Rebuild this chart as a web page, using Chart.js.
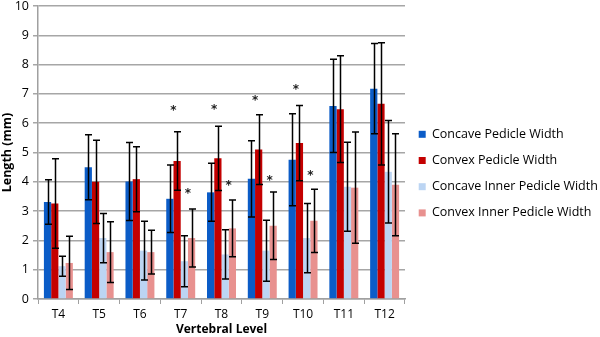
<!DOCTYPE html>
<html>
<head>
<meta charset="utf-8">
<script src="https://cdn.jsdelivr.net/npm/chart.js@4/dist/chart.umd.min.js"></script>
<style>
  html, body { margin: 0; padding: 0; background: #fff; }
  #contenedor { width: 600px; height: 337px; }
</style>
</head>
<body>
<div id="contenedor"><canvas id="grafico"></canvas></div>
<script>
var niveles = ['T4', 'T5', 'T6', 'T7', 'T8', 'T9', 'T10', 'T11', 'T12'];

var concavo = [3.31, 4.50, 4.01, 3.42, 3.64, 4.10, 4.75, 6.59, 7.18];
var concavoErr = [0.76, 1.11, 1.33, 1.15, 0.99, 1.30, 1.57, 1.59, 1.54];
var convexo = [3.26, 4.00, 4.09, 4.71, 4.80, 5.10, 5.32, 6.48, 6.66];
var convexoErr = [1.53, 1.42, 1.11, 1.00, 1.10, 1.19, 1.28, 1.82, 2.09];
var concavoInt = [1.12, 2.08, 1.65, 1.29, 1.52, 1.65, 2.08, 3.83, 4.34];
var concavoIntErr = [0.34, 0.84, 1.00, 0.87, 0.84, 1.04, 1.18, 1.52, 1.75];
var convexoInt = [1.23, 1.60, 1.60, 2.08, 2.41, 2.50, 2.67, 3.80, 3.90];
var convexoIntErr = [0.91, 1.04, 0.75, 0.99, 0.97, 1.15, 1.08, 1.90, 1.74];

// asteriscos (altura en mm), sobre el par exterior y el par interior
var asteriscoExt = [null, null, null, 6.49, 6.54, 6.83, 7.19, null, null];
var asteriscoInt = [null, null, null, 3.65, 3.92, 4.10, 4.27, null, null];

var marcasY = [0, 1, 2, 3, 4, 5, 6, 7, 8, 9, 10];

var fuente = "'Open Sans', sans-serif";

var barrasError = {
  id: 'barrasError',
  afterDatasetsDraw: function (chart) {
    var ctx = chart.ctx;
    var y = chart.scales.y;
    ctx.save();
    ctx.strokeStyle = '#000';
    ctx.lineWidth = 1.5;
    chart.data.datasets.forEach(function (ds, i) {
      var meta = chart.getDatasetMeta(i);
      meta.data.forEach(function (barra, j) {
        var v = ds.data[j], e = ds.errores[j];
        var arriba = y.getPixelForValue(v + e);
        var abajo = y.getPixelForValue(v - e);
        var x = Math.round(barra.x) + 0.5;
        ctx.beginPath();
        ctx.moveTo(x, arriba); ctx.lineTo(x, abajo);
        ctx.moveTo(x - 3.5, arriba); ctx.lineTo(x + 3.5, arriba);
        ctx.moveTo(x - 3.5, abajo); ctx.lineTo(x + 3.5, abajo);
        ctx.stroke();
      });
    });

    // asteriscos
    ctx.fillStyle = '#222';
    ctx.font = "bold 12px 'DejaVu Sans'";
    ctx.textAlign = 'center';
    ctx.textBaseline = 'middle';
    var m0 = chart.getDatasetMeta(0).data, m1 = chart.getDatasetMeta(1).data;
    var m2 = chart.getDatasetMeta(2).data, m3 = chart.getDatasetMeta(3).data;
    niveles.forEach(function (n, j) {
      if (asteriscoExt[j] != null) {
        ctx.fillText('*', (m0[j].x + m1[j].x) / 2, y.getPixelForValue(asteriscoExt[j]) + 2);
      }
      if (asteriscoInt[j] != null) {
        ctx.fillText('*', (m2[j].x + m3[j].x) / 2, y.getPixelForValue(asteriscoInt[j]) + 2);
      }
    });
    ctx.restore();
  }
};

var ctx = document.getElementById('grafico').getContext('2d');
var grafico = new Chart(ctx, {
  type: 'bar',
  data: {
    labels: niveles,
    datasets: [
      { label: 'Concave Pedicle Width', data: concavo, errores: concavoErr, backgroundColor: '#0b5cc7' },
      { label: 'Convex Pedicle Width', data: convexo, errores: convexoErr, backgroundColor: '#c40000' },
      { label: 'Concave Inner Pedicle Width', data: concavoInt, errores: concavoIntErr, backgroundColor: '#bcd5f3' },
      { label: 'Convex Inner Pedicle Width', data: convexoInt, errores: convexoIntErr, backgroundColor: '#e8918f' }
    ]
  },
  options: {
    responsive: true,
    maintainAspectRatio: false,
    animation: false,
    categoryPercentage: 0.71,
    barPercentage: 1.0,
    layout: { padding: { top: 0, right: 0, left: 0, bottom: 0 } },
    plugins: {
      legend: {
        position: 'right',
        maxWidth: 195,
        title: { display: true, text: '', font: { size: 1 }, padding: { top: 0, bottom: 9 } },
        labels: {
          boxWidth: 7,
          boxHeight: 7,
          padding: 13.7,
          color: '#000',
          font: { family: fuente, size: 12.5 }
        }
      },
      tooltip: { enabled: false }
    },
    scales: {
      x: {
        grid: { display: true, drawOnChartArea: false, drawTicks: true, tickLength: 5, color: '#a0a0a0', lineWidth: 1 },
        border: { color: '#a0a0a0', width: 1.5 },
        ticks: { color: '#000', font: { family: fuente, size: 12 }, padding: 3 },
        title: { display: true, text: 'Vertebral Level', color: '#000', font: { family: fuente, size: 12, weight: 'bold' }, padding: 0 },
        afterFit: function (s) { s.height = 38; }
      },
      y: {
        min: 0,
        max: 10,
        afterBuildTicks: function (s) { s.ticks = marcasY.map(function (v) { return { value: v }; }); },
        grid: { color: '#a6a6a6', lineWidth: 1.5, tickLength: 5 },
        border: { color: '#a0a0a0', width: 1.5 },
        ticks: { color: '#000', font: { family: fuente, size: 12.5 }, padding: 4 },
        title: { display: true, text: 'Length (mm)', color: '#000', font: { family: fuente, size: 12.5, weight: 'bold' }, padding: 0 },
        afterFit: function (s) { s.width = 38; s.paddingTop = 6; s.paddingBottom = 0; }
      }
    }
  },
  plugins: [barrasError]
});
</script>
</body>
</html>
